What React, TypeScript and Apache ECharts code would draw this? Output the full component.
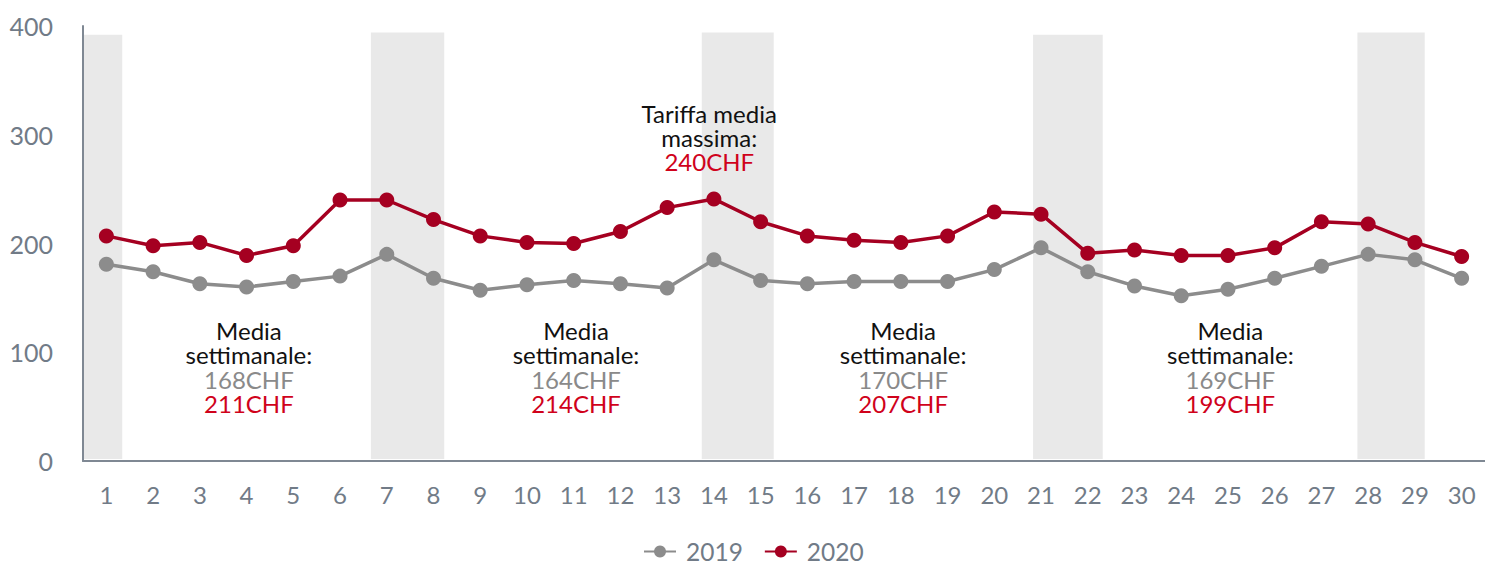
import React, { useEffect, useRef } from "react";
import * as echarts from "echarts";

const days = Array.from({ length: 30 }, (_, i) => String(i + 1));
const values2019 = [181, 174, 163, 160, 165, 170, 190, 168, 157, 162, 166, 163, 159, 185, 166, 163, 165, 165, 165, 176, 196, 174, 161, 152, 158, 168, 179, 190, 185, 168];
const values2020 = [207, 198, 201, 189, 198, 240, 240, 222, 207, 201, 200, 211, 233, 241, 220, 207, 203, 201, 207, 229, 227, 191, 194, 189, 189, 196, 220, 218, 201, 188];
const yTicks = [0, 100, 200, 300, 400];
// weekend bands, in day units along the axis
const bandStart = [0.5, 6.66, 13.74, 20.83, 27.77];
const bandEnd = [1.34, 8.23, 15.28, 22.32, 29.21];
const bandTop = [392, 394, 394, 392, 394];
const weeklyLabel = ["Media", "settimanale:"];
const weekly2019 = ["168CHF", "164CHF", "170CHF", "169CHF"];
const weekly2020 = ["211CHF", "214CHF", "207CHF", "199CHF"];
const weeklyCenterDay = [4, 11, 18, 25];
const maxLabel = ["Tariffa media", "massima:"];
const maxValue = "240CHF";
const maxDay = 14;

const FONT = "Lato, 'Noto Sans', sans-serif";
const AXIS_TEXT = "#717b87";
const RED = "#a50021";
const GRAY = "#8c8c8c";

export default function App() {
  const ref = useRef<HTMLDivElement>(null);
  useEffect(() => {
    if (!ref.current) return;
    const chart = echarts.init(ref.current, undefined, { renderer: "svg" });
    const gridLeft = 83;
    const gridWidth = 1408;
    const gridTop = 26;
    const gridBottom = 105;
    const option: any = {
      animation: false,
      textStyle: { fontFamily: FONT },
      grid: { left: gridLeft, top: gridTop, width: gridWidth, bottom: gridBottom, containLabel: false },
      legend: {
        top: 539,
        left: 643,
        padding: 0,
        itemWidth: 32,
        itemHeight: 15,
        itemGap: 21,
        textStyle: { color: AXIS_TEXT, fontSize: 24.5, lineHeight: 24, fontFamily: FONT, padding: [0, 0, 0, 5] },
        data: ["2019", "2020"],
      },
      xAxis: [
        {
          type: "category",
          data: days,
          boundaryGap: true,
          axisLine: { lineStyle: { color: "#7f8893", width: 2 } },
          axisTick: { show: false },
          axisLabel: { color: AXIS_TEXT, fontSize: 24, margin: 21, fontFamily: FONT },
          z: 5,
        },
        {
          type: "value",
          min: 0.5,
          max: 30.5,
          show: false,
        },
      ],
      yAxis: {
        type: "value",
        min: yTicks[0],
        max: yTicks[yTicks.length - 1],
        interval: 100,
        axisLine: { show: true, lineStyle: { color: "#7f8893", width: 2 } },
        axisTick: { show: false },
        splitLine: { show: false },
        axisLabel: { color: AXIS_TEXT, fontSize: 25, margin: 30, fontFamily: FONT },
      },
      series: [
        {
          type: "custom",
          xAxisIndex: 1,
          silent: true,
          z: 0,
          data: bandStart.map((s, i) => [s, bandEnd[i], bandTop[i]]),
          renderItem: (params: any, api: any) => {
            const p0 = api.coord([api.value(0), 0]);
            const p1 = api.coord([api.value(1), api.value(2)]);
            return {
              type: "rect",
              shape: { x: p0[0], y: p1[1], width: p1[0] - p0[0], height: p0[1] - p1[1] - 2 },
              style: { fill: "#e9e9e9" },
            };
          },
        },
        {
          name: "2019",
          type: "line",
          data: values2019,
          symbol: "circle",
          symbolSize: 15,
          itemStyle: { color: GRAY },
          lineStyle: { color: GRAY, width: 3.5 },
          z: 3,
        },
        {
          name: "2020",
          type: "line",
          data: values2020,
          symbol: "circle",
          symbolSize: 15,
          itemStyle: { color: RED },
          lineStyle: { color: RED, width: 3.5 },
          z: 4,
        },
      ],
    };
    chart.setOption(option);

    const graphics: any[] = [];
    const addLine = (x: number, y: number, text: string, fill: string) => {
      graphics.push({
        type: "text",
        x,
        y,
        style: { text, fill, fontSize: 24, lineHeight: 23, fontFamily: FONT, align: "center", verticalAlign: "middle" },
      });
    };
    weeklyCenterDay.forEach((d, i) => {
      const [x] = chart.convertToPixel({ xAxisIndex: 1, yAxisIndex: 0 } as any, [d + 0.05, 0]) as number[];
      addLine(x, 330, weeklyLabel[0], "#111111");
      addLine(x, 354.5, weeklyLabel[1], "#111111");
      addLine(x, 379, weekly2019[i], "#8a8a8a");
      addLine(x, 403.5, weekly2020[i], "#d0021b");
    });
    {
      const [x] = chart.convertToPixel({ xAxisIndex: 1, yAxisIndex: 0 } as any, [maxDay - 0.1, 0]) as number[];
      addLine(x, 113, maxLabel[0], "#111111");
      addLine(x, 137, maxLabel[1], "#111111");
      addLine(x, 161, maxValue, "#d0021b");
    }
    chart.setOption({ graphic: graphics });

    return () => chart.dispose();
  }, []);
  return <div ref={ref} style={{ width: 1485, height: 566, position: "absolute", left: 0, top: 0 }} />;
}
